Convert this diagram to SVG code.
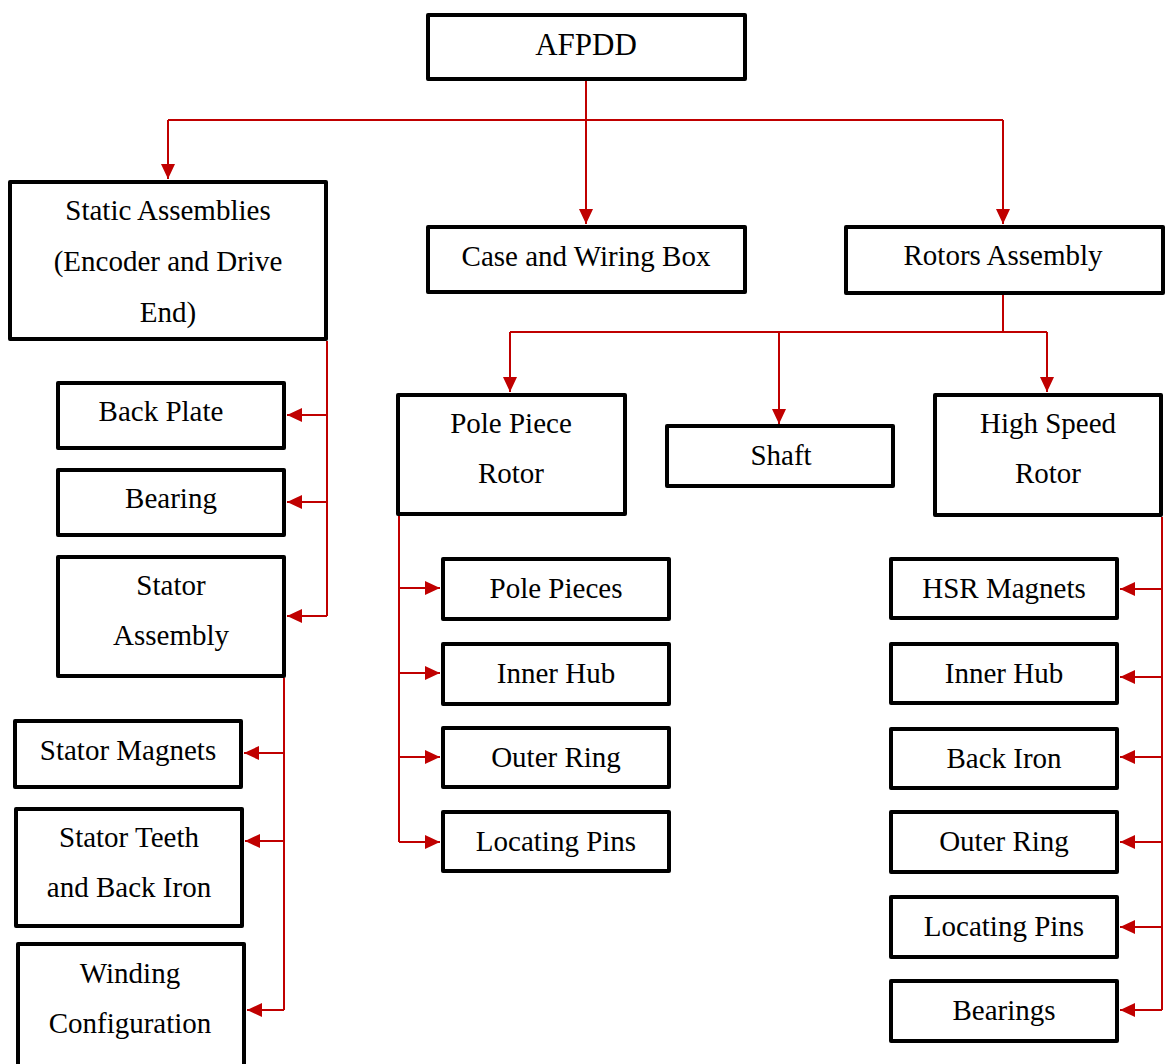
<svg xmlns="http://www.w3.org/2000/svg" width="1168" height="1064" viewBox="0 0 1168 1064">
  <style>
    .box { fill: #ffffff; stroke: #000000; stroke-width: 4; stroke-linejoin: round; }
    .lbl { font-family: "Liberation Serif", "Times New Roman", serif; font-size: 29px; fill: #000000; text-anchor: middle; }
    .big { font-size: 31px; }
    .wire { fill: none; stroke: #C00000; stroke-width: 2; }
  </style>
  <defs>
    <marker id="ah" viewBox="0 0 15 14" refX="15" refY="7" markerWidth="15" markerHeight="14" markerUnits="userSpaceOnUse" orient="auto">
      <path d="M0,0 L15,7 L0,14 z" fill="#C00000"/>
    </marker>
  </defs>

  <rect width="1168" height="1064" fill="#ffffff"/>

  <!-- connectors -->
  <g id="connectors">
    <!-- AFPDD to first level -->
    <path class="wire" d="M586,81 V224" marker-end="url(#ah)"/>
    <path class="wire" d="M168,120 H1003"/>
    <path class="wire" d="M168,120 V179" marker-end="url(#ah)"/>
    <path class="wire" d="M1003,120 V224" marker-end="url(#ah)"/>
    <!-- Rotors Assembly to rotors and shaft -->
    <path class="wire" d="M1003,295 V332"/>
    <path class="wire" d="M510,332 H1047"/>
    <path class="wire" d="M510,332 V392" marker-end="url(#ah)"/>
    <path class="wire" d="M779,332 V424" marker-end="url(#ah)"/>
    <path class="wire" d="M1047,332 V392" marker-end="url(#ah)"/>
    <!-- Static assemblies trunk -->
    <path class="wire" d="M327,341 V616"/>
    <path class="wire" d="M327,415 H287" marker-end="url(#ah)"/>
    <path class="wire" d="M327,502 H287" marker-end="url(#ah)"/>
    <path class="wire" d="M327,616 H287" marker-end="url(#ah)"/>
    <!-- Stator assembly trunk -->
    <path class="wire" d="M284,678 V1010"/>
    <path class="wire" d="M284,753 H244" marker-end="url(#ah)"/>
    <path class="wire" d="M284,841 H245" marker-end="url(#ah)"/>
    <path class="wire" d="M284,1010 H247" marker-end="url(#ah)"/>
    <!-- Pole piece rotor trunk -->
    <path class="wire" d="M399,516 V842"/>
    <path class="wire" d="M399,588 H440" marker-end="url(#ah)"/>
    <path class="wire" d="M399,673 H440" marker-end="url(#ah)"/>
    <path class="wire" d="M399,757 H440" marker-end="url(#ah)"/>
    <path class="wire" d="M399,842 H440" marker-end="url(#ah)"/>
    <!-- High speed rotor trunk -->
    <path class="wire" d="M1162,517 V1010"/>
    <path class="wire" d="M1162,589 H1120" marker-end="url(#ah)"/>
    <path class="wire" d="M1162,677 H1120" marker-end="url(#ah)"/>
    <path class="wire" d="M1162,757 H1120" marker-end="url(#ah)"/>
    <path class="wire" d="M1162,842 H1120" marker-end="url(#ah)"/>
    <path class="wire" d="M1162,927 H1120" marker-end="url(#ah)"/>
    <path class="wire" d="M1162,1010 H1120" marker-end="url(#ah)"/>
  </g>

  <!-- top level -->
  <g id="afpdd">
    <rect class="box" x="428" y="15" width="317" height="64"/>
    <text class="lbl big" x="586" y="55">AFPDD</text>
  </g>

  <g id="static-assemblies">
    <rect class="box" x="10" y="182" width="316" height="157"/>
    <text class="lbl" x="168" y="220">Static Assemblies</text>
    <text class="lbl" x="168" y="271">(Encoder and Drive</text>
    <text class="lbl" x="168" y="322">End)</text>
  </g>

  <g id="case-wiring-box">
    <rect class="box" x="428" y="227" width="317" height="65"/>
    <text class="lbl" x="586" y="266">Case and Wiring Box</text>
  </g>

  <g id="rotors-assembly">
    <rect class="box" x="846" y="227" width="317" height="66"/>
    <text class="lbl" x="1003" y="265">Rotors Assembly</text>
  </g>

  <!-- static assemblies children -->
  <g id="back-plate">
    <rect class="box" x="58" y="383" width="226" height="65"/>
    <text class="lbl" x="161" y="421">Back Plate</text>
  </g>
  <g id="bearing">
    <rect class="box" x="58" y="470" width="226" height="65"/>
    <text class="lbl" x="171" y="508">Bearing</text>
  </g>
  <g id="stator-assembly">
    <rect class="box" x="58" y="557" width="226" height="119"/>
    <text class="lbl" x="171" y="595">Stator</text>
    <text class="lbl" x="171" y="645">Assembly</text>
  </g>

  <!-- stator assembly children -->
  <g id="stator-magnets">
    <rect class="box" x="15" y="721" width="226" height="66"/>
    <text class="lbl" x="128" y="760">Stator Magnets</text>
  </g>
  <g id="stator-teeth">
    <rect class="box" x="16" y="809" width="226" height="117"/>
    <text class="lbl" x="129" y="847">Stator Teeth</text>
    <text class="lbl" x="129" y="897">and Back Iron</text>
  </g>
  <g id="winding-configuration">
    <rect class="box" x="18" y="944" width="226" height="130"/>
    <text class="lbl" x="130" y="983">Winding</text>
    <text class="lbl" x="130" y="1033">Configuration</text>
  </g>

  <!-- rotors assembly children -->
  <g id="pole-piece-rotor">
    <rect class="box" x="398" y="395" width="227" height="119"/>
    <text class="lbl" x="511" y="433">Pole Piece</text>
    <text class="lbl" x="511" y="483">Rotor</text>
  </g>
  <g id="shaft">
    <rect class="box" x="667" y="426" width="226" height="60"/>
    <text class="lbl" x="781" y="465">Shaft</text>
  </g>
  <g id="high-speed-rotor">
    <rect class="box" x="935" y="395" width="226" height="120"/>
    <text class="lbl" x="1048" y="433">High Speed</text>
    <text class="lbl" x="1048" y="483">Rotor</text>
  </g>

  <!-- pole piece rotor children -->
  <g id="pole-pieces">
    <rect class="box" x="443" y="559" width="226" height="60"/>
    <text class="lbl" x="556" y="598">Pole Pieces</text>
  </g>
  <g id="ppr-inner-hub">
    <rect class="box" x="443" y="644" width="226" height="60"/>
    <text class="lbl" x="556" y="683">Inner Hub</text>
  </g>
  <g id="ppr-outer-ring">
    <rect class="box" x="443" y="728" width="226" height="59"/>
    <text class="lbl" x="556" y="767">Outer Ring</text>
  </g>
  <g id="ppr-locating-pins">
    <rect class="box" x="443" y="812" width="226" height="59"/>
    <text class="lbl" x="556" y="851">Locating Pins</text>
  </g>

  <!-- high speed rotor children -->
  <g id="hsr-magnets">
    <rect class="box" x="891" y="559" width="226" height="59"/>
    <text class="lbl" x="1004" y="598">HSR Magnets</text>
  </g>
  <g id="hsr-inner-hub">
    <rect class="box" x="891" y="644" width="226" height="59"/>
    <text class="lbl" x="1004" y="683">Inner Hub</text>
  </g>
  <g id="hsr-back-iron">
    <rect class="box" x="891" y="729" width="226" height="59"/>
    <text class="lbl" x="1004" y="768">Back Iron</text>
  </g>
  <g id="hsr-outer-ring">
    <rect class="box" x="891" y="812" width="226" height="60"/>
    <text class="lbl" x="1004" y="851">Outer Ring</text>
  </g>
  <g id="hsr-locating-pins">
    <rect class="box" x="891" y="897" width="226" height="60"/>
    <text class="lbl" x="1004" y="936">Locating Pins</text>
  </g>
  <g id="hsr-bearings">
    <rect class="box" x="891" y="981" width="226" height="60"/>
    <text class="lbl" x="1004" y="1020">Bearings</text>
  </g>
</svg>
